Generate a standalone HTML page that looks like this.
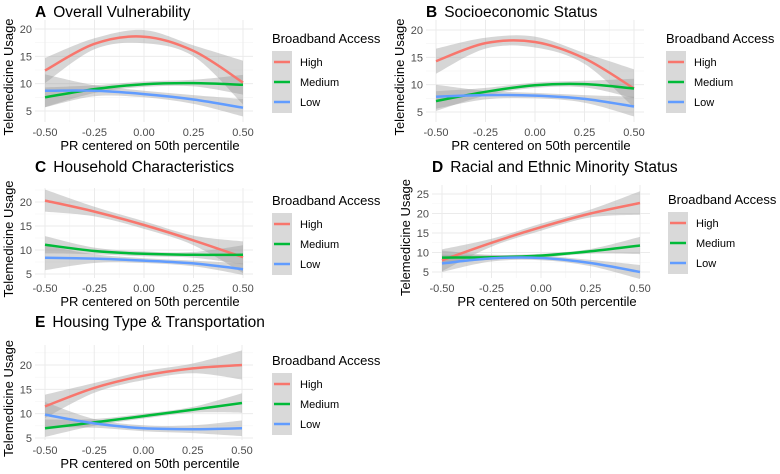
<!DOCTYPE html>
<html><head><meta charset="utf-8"><style>
body{margin:0;background:#fff;}
svg{display:block;font-family:"Liberation Sans",sans-serif;}
</style></head><body>
<svg id="c" width="780" height="474" viewBox="0 0 780 474"></svg>
<script>
const xs=[-0.5,-0.25,0,0.25,0.5];
const groups=["High","Medium","Low"];
const colors={High:"#F8766D",Medium:"#00BA38",Low:"#619CFF"};
const titles=["Overall Vulnerability","Socioeconomic Status","Household Characteristics","Racial and Ethnic Minority Status","Housing Type & Transportation"];
const letters=["A","B","C","D","E"];
const yTicksA=[5,10,15,20];
const yTicksD=[5,10,15,20,25];
const xTickLabels=["-0.50","-0.25","0.00","0.25","0.50"];
// fitted values per panel
const highA=[12.4,17.3,18.6,16.0,10.2], medA=[7.5,9.0,9.9,10.1,9.8], lowA=[8.7,8.7,8.1,7.1,5.6];
const highB=[14.3,17.6,17.8,14.8,9.3], medB=[7.0,8.7,9.9,10.1,9.3], lowB=[7.8,8.1,8.0,7.4,6.0];
const highC=[20.3,18.0,15.2,12.0,8.5], medC=[11.1,9.8,9.2,9.0,9.0], lowC=[8.4,8.2,7.8,7.2,6.0];
const highD=[8.0,12.5,16.5,20.0,22.7], medD=[8.7,8.8,9.2,10.3,11.8], lowD=[7.2,8.5,8.6,7.3,5.0];
const highE=[11.5,15.3,17.8,19.3,20.0], medE=[7.0,8.2,9.5,10.8,12.2], lowE=[9.8,8.0,7.0,6.8,7.0];
// ribbon half-widths
const seHighA=[2.3,1.0,1.2,1.0,4.0], seMedA=[1.8,0.7,0.5,0.6,1.8], seLowA=[3.0,1.0,0.6,0.8,1.6];
const seHighB=[2.3,1.0,1.0,1.0,3.5], seMedB=[1.8,0.7,0.5,0.6,1.8], seLowB=[2.2,0.8,0.5,0.7,1.8];
const seHighC=[2.3,1.0,0.8,1.0,3.3], seMedC=[1.8,0.7,0.5,0.6,2.0], seLowC=[2.6,0.9,0.5,0.6,1.2];
const seHighD=[2.8,1.0,0.9,1.0,3.0], seMedD=[1.8,0.6,0.5,0.6,2.2], seLowD=[2.2,0.8,0.6,0.8,1.8];
const seHighE=[2.4,1.0,0.9,1.0,3.0], seMedE=[1.8,0.7,0.5,0.6,2.0], seLowE=[2.6,0.9,0.6,0.8,1.6];

const panels=[
 {hi:highA,md:medA,lo:lowA,sh:seHighA,sm:seMedA,sl:seLowA,ticks:yTicksA,px0:35,px1:253,py0:20,py1:122,xa:45,xb:243,yv1:20,yp1:29,yv2:5,yp2:111,top:0,leg:272,legY:38},
 {hi:highB,md:medB,lo:lowB,sh:seHighB,sm:seMedB,sl:seLowB,ticks:yTicksA,px0:426,px1:644,py0:20,py1:122,xa:436,xb:634,yv1:20,yp1:30,yv2:5,yp2:112,top:0,leg:666,legY:38},
 {hi:highC,md:medC,lo:lowC,sh:seHighC,sm:seMedC,sl:seLowC,ticks:yTicksA,px0:35,px1:253,py0:188,py1:278,xa:45,xb:243,yv1:20,yp1:202,yv2:5,yp2:274,top:155,leg:272,legY:200},
 {hi:highD,md:medD,lo:lowD,sh:seHighD,sm:seMedD,sl:seLowD,ticks:yTicksD,px0:432,px1:650,py0:185,py1:278,xa:442,xb:640,yv1:25,yp1:194,yv2:5,yp2:272,top:155,leg:668,legY:199},
 {hi:highE,md:medE,lo:lowE,sh:seHighE,sm:seMedE,sl:seLowE,ticks:yTicksA,px0:35,px1:253,py0:345,py1:440,xa:45,xb:242,yv1:20,yp1:365,yv2:5,yp2:438,top:310,leg:272,legY:360}
];
const svg=document.getElementById('c');
const NS="http://www.w3.org/2000/svg";
function mk(tag,attrs,parent){const e=document.createElementNS(NS,tag);for(const k in attrs)e.setAttribute(k,attrs[k]);(parent||svg).appendChild(e);return e;}
function spline(pts){
 let d="M"+pts[0][0].toFixed(1)+","+pts[0][1].toFixed(1);
 for(let i=0;i<pts.length-1;i++){const p0=pts[Math.max(0,i-1)],p1=pts[i],p2=pts[i+1],p3=pts[Math.min(pts.length-1,i+2)];
  const c1=[p1[0]+(p2[0]-p0[0])/6,p1[1]+(p2[1]-p0[1])/6],c2=[p2[0]-(p3[0]-p1[0])/6,p2[1]-(p3[1]-p1[1])/6];
  d+=" C"+c1.map(v=>v.toFixed(1))+" "+c2.map(v=>v.toFixed(1))+" "+p2[0].toFixed(1)+","+p2[1].toFixed(1);}
 return d;}
panels.forEach((p,i)=>{
 const g=mk('g',{});
 
 
 const X=v=>p.xa+(v+0.5)*(p.xb-p.xa);
 const Y=v=>p.yp1+(p.yv1-v)*(p.yp2-p.yp1)/(p.yv1-p.yv2);
 for(let k=0;k<4;k++){const v=-0.375+k*0.25;mk('line',{x1:X(v),x2:X(v),y1:p.py0,y2:p.py1,stroke:'#f4f4f4','stroke-width':0.6},g);}
 const step=p.ticks[1]-p.ticks[0];
 for(let t=p.ticks[0]-step/2;t<=p.ticks[p.ticks.length-1]+step/2;t+=step){const y=Y(t);if(y>=p.py0&&y<=p.py1)mk('line',{x1:p.px0,x2:p.px1,y1:y,y2:y,stroke:'#f4f4f4','stroke-width':0.6},g);}
 xs.forEach(v=>mk('line',{x1:X(v),x2:X(v),y1:p.py0,y2:p.py1,stroke:'#ebebeb','stroke-width':1},g));
 p.ticks.forEach(t=>{mk('line',{x1:p.px0,x2:p.px1,y1:Y(t),y2:Y(t),stroke:'#ebebeb','stroke-width':1},g);
  const tl=mk('text',{x:p.px0-3,y:Y(t)+4,'text-anchor':'end','font-size':11,fill:'#4d4d4d'},g);tl.textContent=t;
  });
 xs.forEach((v,k)=>{const tl=mk('text',{x:X(v),y:p.py1+14,'text-anchor':'middle','font-size':11,fill:'#4d4d4d'},g);tl.textContent=xTickLabels[k];
  });
 const series=[[p.hi,p.sh,'High'],[p.md,p.sm,'Medium'],[p.lo,p.sl,'Low']];
 series.forEach(([ys,se])=>{
  const up=xs.map((v,k)=>[X(v),Y(ys[k]+se[k])]),dn=xs.map((v,k)=>[X(v),Y(ys[k]-se[k])]).reverse();
  const sd=spline(dn);
  const d=spline(up)+" L"+dn[0][0].toFixed(1)+","+dn[0][1].toFixed(1)+sd.slice(sd.indexOf(' '))+"Z";
  const r=mk('path',{d:d,fill:'#999',opacity:0.4},g);
  });
 series.forEach(([ys,se,name])=>{
  const l=mk('path',{d:spline(xs.map((v,k)=>[X(v),Y(ys[k])])),fill:'none',stroke:colors[name],'stroke-width':2.5},g);
  });
 const tt=mk('text',{x:p.px0,y:p.top+17,'font-size':15.5,fill:'#000'},g);
 const b=mk('tspan',{'font-weight':'bold'},tt);b.textContent=letters[i];
 const s=mk('tspan',{dx:7},tt);s.textContent=titles[i];
 
 const xt=mk('text',{x:(p.px0+p.px1)/2+6,y:p.py1+28,'text-anchor':'middle','font-size':13,fill:'#000'},g);xt.textContent="PR centered on 50th percentile";
 
 const yx=p.px0-22,yy=(p.py0+p.py1)/2+6;
 const yt=mk('text',{x:yx,y:yy,'text-anchor':'middle','font-size':13,fill:'#000',transform:`rotate(-90 ${yx} ${yy})`},g);yt.textContent="Telemedicine Usage";
 
 const lg=mk('g',{},g);
 const lt=mk('text',{x:p.leg,y:p.legY+5,'font-size':13,fill:'#000'},lg);lt.textContent="Broadband Access";
 mk('rect',{x:p.leg,y:p.legY+13,width:20,height:62,fill:'#d9d9d9'},lg);
 groups.forEach((n,k)=>{const y=p.legY+24+k*20;
  mk('line',{x1:p.leg+2,x2:p.leg+18,y1:y,y2:y,stroke:colors[n],'stroke-width':2.5},lg);
  const e=mk('text',{x:p.leg+28,y:y+4,'font-size':11,fill:'#000'},lg);e.textContent=n;
  });
});
</script>
</body></html>
